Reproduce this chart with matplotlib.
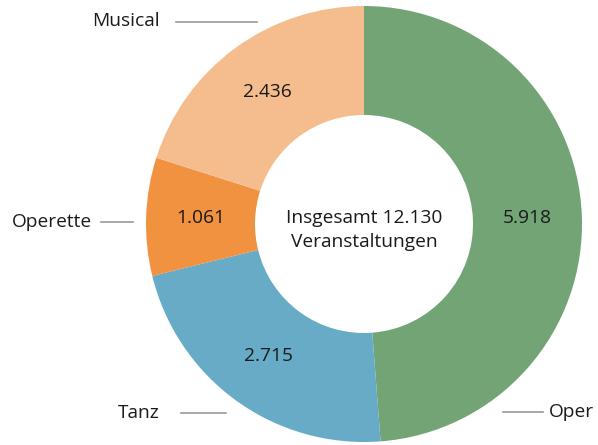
import matplotlib
matplotlib.use("Agg")
import matplotlib.pyplot as plt

categories = ["Oper", "Tanz", "Operette", "Musical"]
values = [5918, 2715, 1061, 2436]
colors = ["#72a476", "#67abc7", "#f0923f", "#f5bd8d"]
total_label = "Insgesamt 12.130\nVeranstaltungen"

plt.rcParams['font.family'] = ['Open Sans', 'DejaVu Sans']

W, H = 598, 445
FS = 13.8
fig = plt.figure(figsize=(W / 100, H / 100), dpi=100)
ax = fig.add_axes([0, 0, 1, 1])

cx, cy, R = 364, H - 224, 218
total = sum(values)

def fmt(v):
    return f"{v:,}".replace(",", ".")

wedges, texts, autotexts = ax.pie(
    values, colors=colors, startangle=90, counterclock=False,
    center=(cx, cy), radius=R, wedgeprops=dict(width=R * 0.5, linewidth=0),
    autopct=lambda p: fmt(round(p * total / 100)), pctdistance=0.75,
    textprops=dict(fontsize=FS, color="#1a1a1a"), frame=True)
ax.set_xlim(0, W)
ax.set_ylim(0, H)
ax.set_aspect('equal')
ax.axis('off')

ax.text(cx, H - 230, total_label, ha='center', va='center', fontsize=FS,
        color="#1a1a1a", linespacing=1.45)

# outside labels with leader lines (layout positions in pixels)
label_layout = {
    "Musical": dict(text=(160, 21), ha='right', line=(176, 257, 22)),
    "Operette": dict(text=(92, 222), ha='right', line=(101, 133, 222)),
    "Tanz": dict(text=(160, 413), ha='right', line=(181, 226, 413)),
    "Oper": dict(text=(549, 412), ha='left', line=(503, 543, 412)),
}
for name in categories:
    lay = label_layout[name]
    tx, ty = lay['text']
    ax.text(tx, H - ty, name, ha=lay['ha'], va='center', fontsize=FS, color="#1a1a1a")
    x0, x1, ly = lay['line']
    ax.plot([x0, x1], [H - ly, H - ly], color="#9a9a9a", lw=1.2)

fig.savefig("out.png", dpi=100)
